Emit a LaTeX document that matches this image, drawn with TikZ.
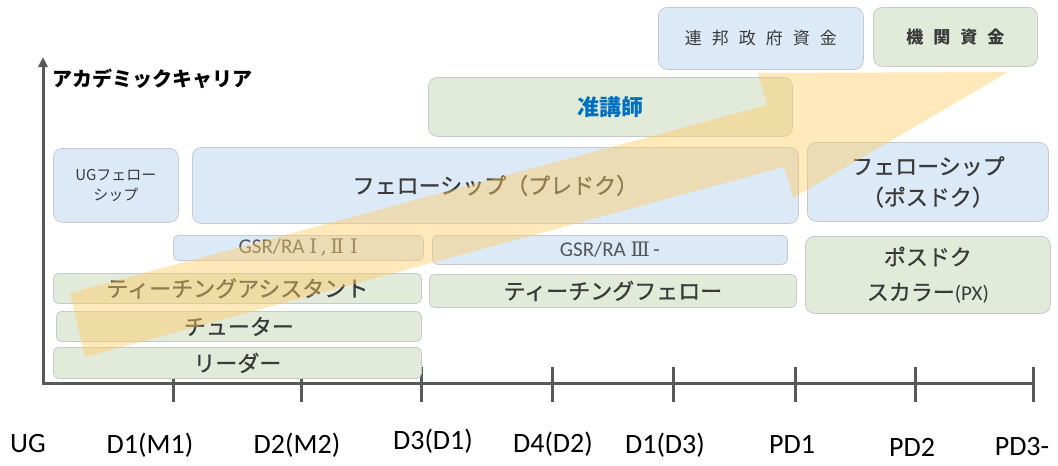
\documentclass[tikz,border=0pt]{standalone}
\usepackage{fontspec}
\setmainfont{Carlito}
\newfontfamily\jp{Noto Sans CJK JP}
\newfontfamily\jpm{Noto Sans CJK JP}[FakeBold=0.9]
\newfontfamily\romn{DejaVu Serif}
\usetikzlibrary{arrows.meta}
\definecolor{bluefill}{HTML}{DCEAF7}
\definecolor{greenfill}{HTML}{E2EADA}
\definecolor{boxline}{HTML}{C6CACE}
\definecolor{axisgray}{HTML}{595959}
\definecolor{txt}{HTML}{3A3A3A}
\definecolor{txtlight}{HTML}{555555}
\definecolor{arrowfill}{HTML}{FFCC66}
\definecolor{jblue}{HTML}{0070C0}
\newcommand\gapj{\hspace{10pt}}
\tikzset{
  box/.style={draw=boxline, line width=0.8pt, rounded corners=9pt, anchor=north west,
    inner sep=0pt, align=center, text=txt, font=\jpm\fontsize{22}{31}\selectfont},
  thinbox/.style={box, rounded corners=5pt},
  bluebox/.style={box, fill=bluefill},
  greenbox/.style={box, fill=greenfill},
  thinblue/.style={thinbox, fill=bluefill},
  thingreen/.style={thinbox, fill=greenfill},
  axisline/.style={draw=axisgray, line width=3pt},
  ticklabel/.style={font=\fontsize{28}{30}\selectfont, text=black, inner sep=0pt},
  bigarrow/.style={fill=arrowfill, fill opacity=0.45},
}
\begin{document}
\begin{tikzpicture}[x=1pt,y=-1pt]
\useasboundingbox (0,0) rectangle (1058,466);
% axes
\coordinate (O) at (43,383);
\coordinate (Ytop) at (43,57);
\coordinate (Xend) at (1033,383);
\foreach \tx/\tn in {173/t1,301/t2,421/t3,552/t4,673/t5,795/t6,915/t7,1033/t8}{
  \coordinate (\tn a) at (\tx,367);
  \coordinate (\tn b) at (\tx,402);
  \draw[axisline] (\tn a) -- (\tn b);
}
\draw[axisline] (O) -- (Xend);
\draw[axisline, -{Triangle[length=10pt,width=9pt]}] ([yshift=-1.5pt]O) -- (Ytop);
\node[anchor=west, inner sep=0pt, font=\jp\bfseries\fontsize{20}{24}\selectfont] (title) at (52,79) {アカデミックキャリア};
% tick labels
\node[ticklabel] (lUG) at (28,444) {UG};
\node[ticklabel] (lD1) at (150,445) {D1(M1)};
\node[ticklabel] (lD2) at (297,445) {D2(M2)};
\node[ticklabel] (lD3) at (433,441) {D3(D1)};
\node[ticklabel] (lD4) at (553,444) {D4(D2)};
\node[ticklabel] (lD5) at (665,445) {D1(D3)};
\node[ticklabel] (lP1) at (792,444) {PD1};
\node[ticklabel] (lP2) at (912,447) {PD2};
\node[ticklabel] (lP3) at (1022,447) {PD3-};
% boxes
\node[bluebox, minimum width=205pt, minimum height=62pt, text depth=2pt, font=\jp\fontsize{17}{20}\selectfont] (fed) at (658,7)
  {連\gapj 邦\gapj 政\gapj 府\gapj 資\gapj 金};
\node[greenbox, minimum width=164pt, minimum height=59pt, font=\jp\bfseries\fontsize{17}{20}\selectfont] (inst) at (873,7)
  {機\gapj 関\gapj 資\gapj 金};
\node[greenbox, minimum width=364pt, minimum height=59pt, text=jblue, font=\jp\bfseries\fontsize{22}{26}\selectfont] (jun) at (428,77) {准講師};
\node[bluebox, minimum width=125pt, minimum height=74pt, font=\jp\fontsize{15}{20}\selectfont] (ugf) at (53,148) {UGフェロー\\シップ};
\node[bluebox, minimum width=606pt, minimum height=76pt] (pre) at (192,147) {フェローシップ（プレドク）};
\node[bluebox, minimum width=241pt, minimum height=79pt] (pos) at (807,142) {フェローシップ\\（ポスドク）};
\node[greenbox, minimum width=245pt, minimum height=77pt, font=\jpm\fontsize{22}{35}\selectfont] (px) at (805,236) {ポスドク\\スカラー{\rmfamily\fontsize{21}{35}\selectfont (PX)}};
\node[thinblue, minimum width=250pt, minimum height=25pt, text=txtlight, font=\fontsize{21}{24}\selectfont] (gsr1) at (173,235) {GSR/RA {\romn\fontsize{20}{24}\selectfont Ⅰ\,,\,Ⅱ\ Ⅰ}};
\node[thinblue, minimum width=355pt, minimum height=29pt, text=txtlight, font=\fontsize{21}{24}\selectfont] (gsr3) at (432,235) {GSR/RA {\romn\fontsize{20}{24}\selectfont Ⅲ}\,-};
\node[thingreen, minimum width=368pt, minimum height=30pt] (ta) at (53,273) {ティーチングアシスタント};
\node[thingreen, minimum width=367pt, minimum height=33pt] (tf) at (429,274) {ティーチングフェロー};
\node[thingreen, minimum width=365pt, minimum height=30pt] (tut) at (56,311) {チューター};
\node[thingreen, minimum width=368pt, minimum height=31pt] (lead) at (53,347) {リーダー};
% big arrow
\fill[bigarrow] (70,293) -- (767,105) -- (758,73) -- (1008,72) -- (793,198) -- (784,167) -- (85,357) -- cycle;
\end{tikzpicture}
\end{document}
